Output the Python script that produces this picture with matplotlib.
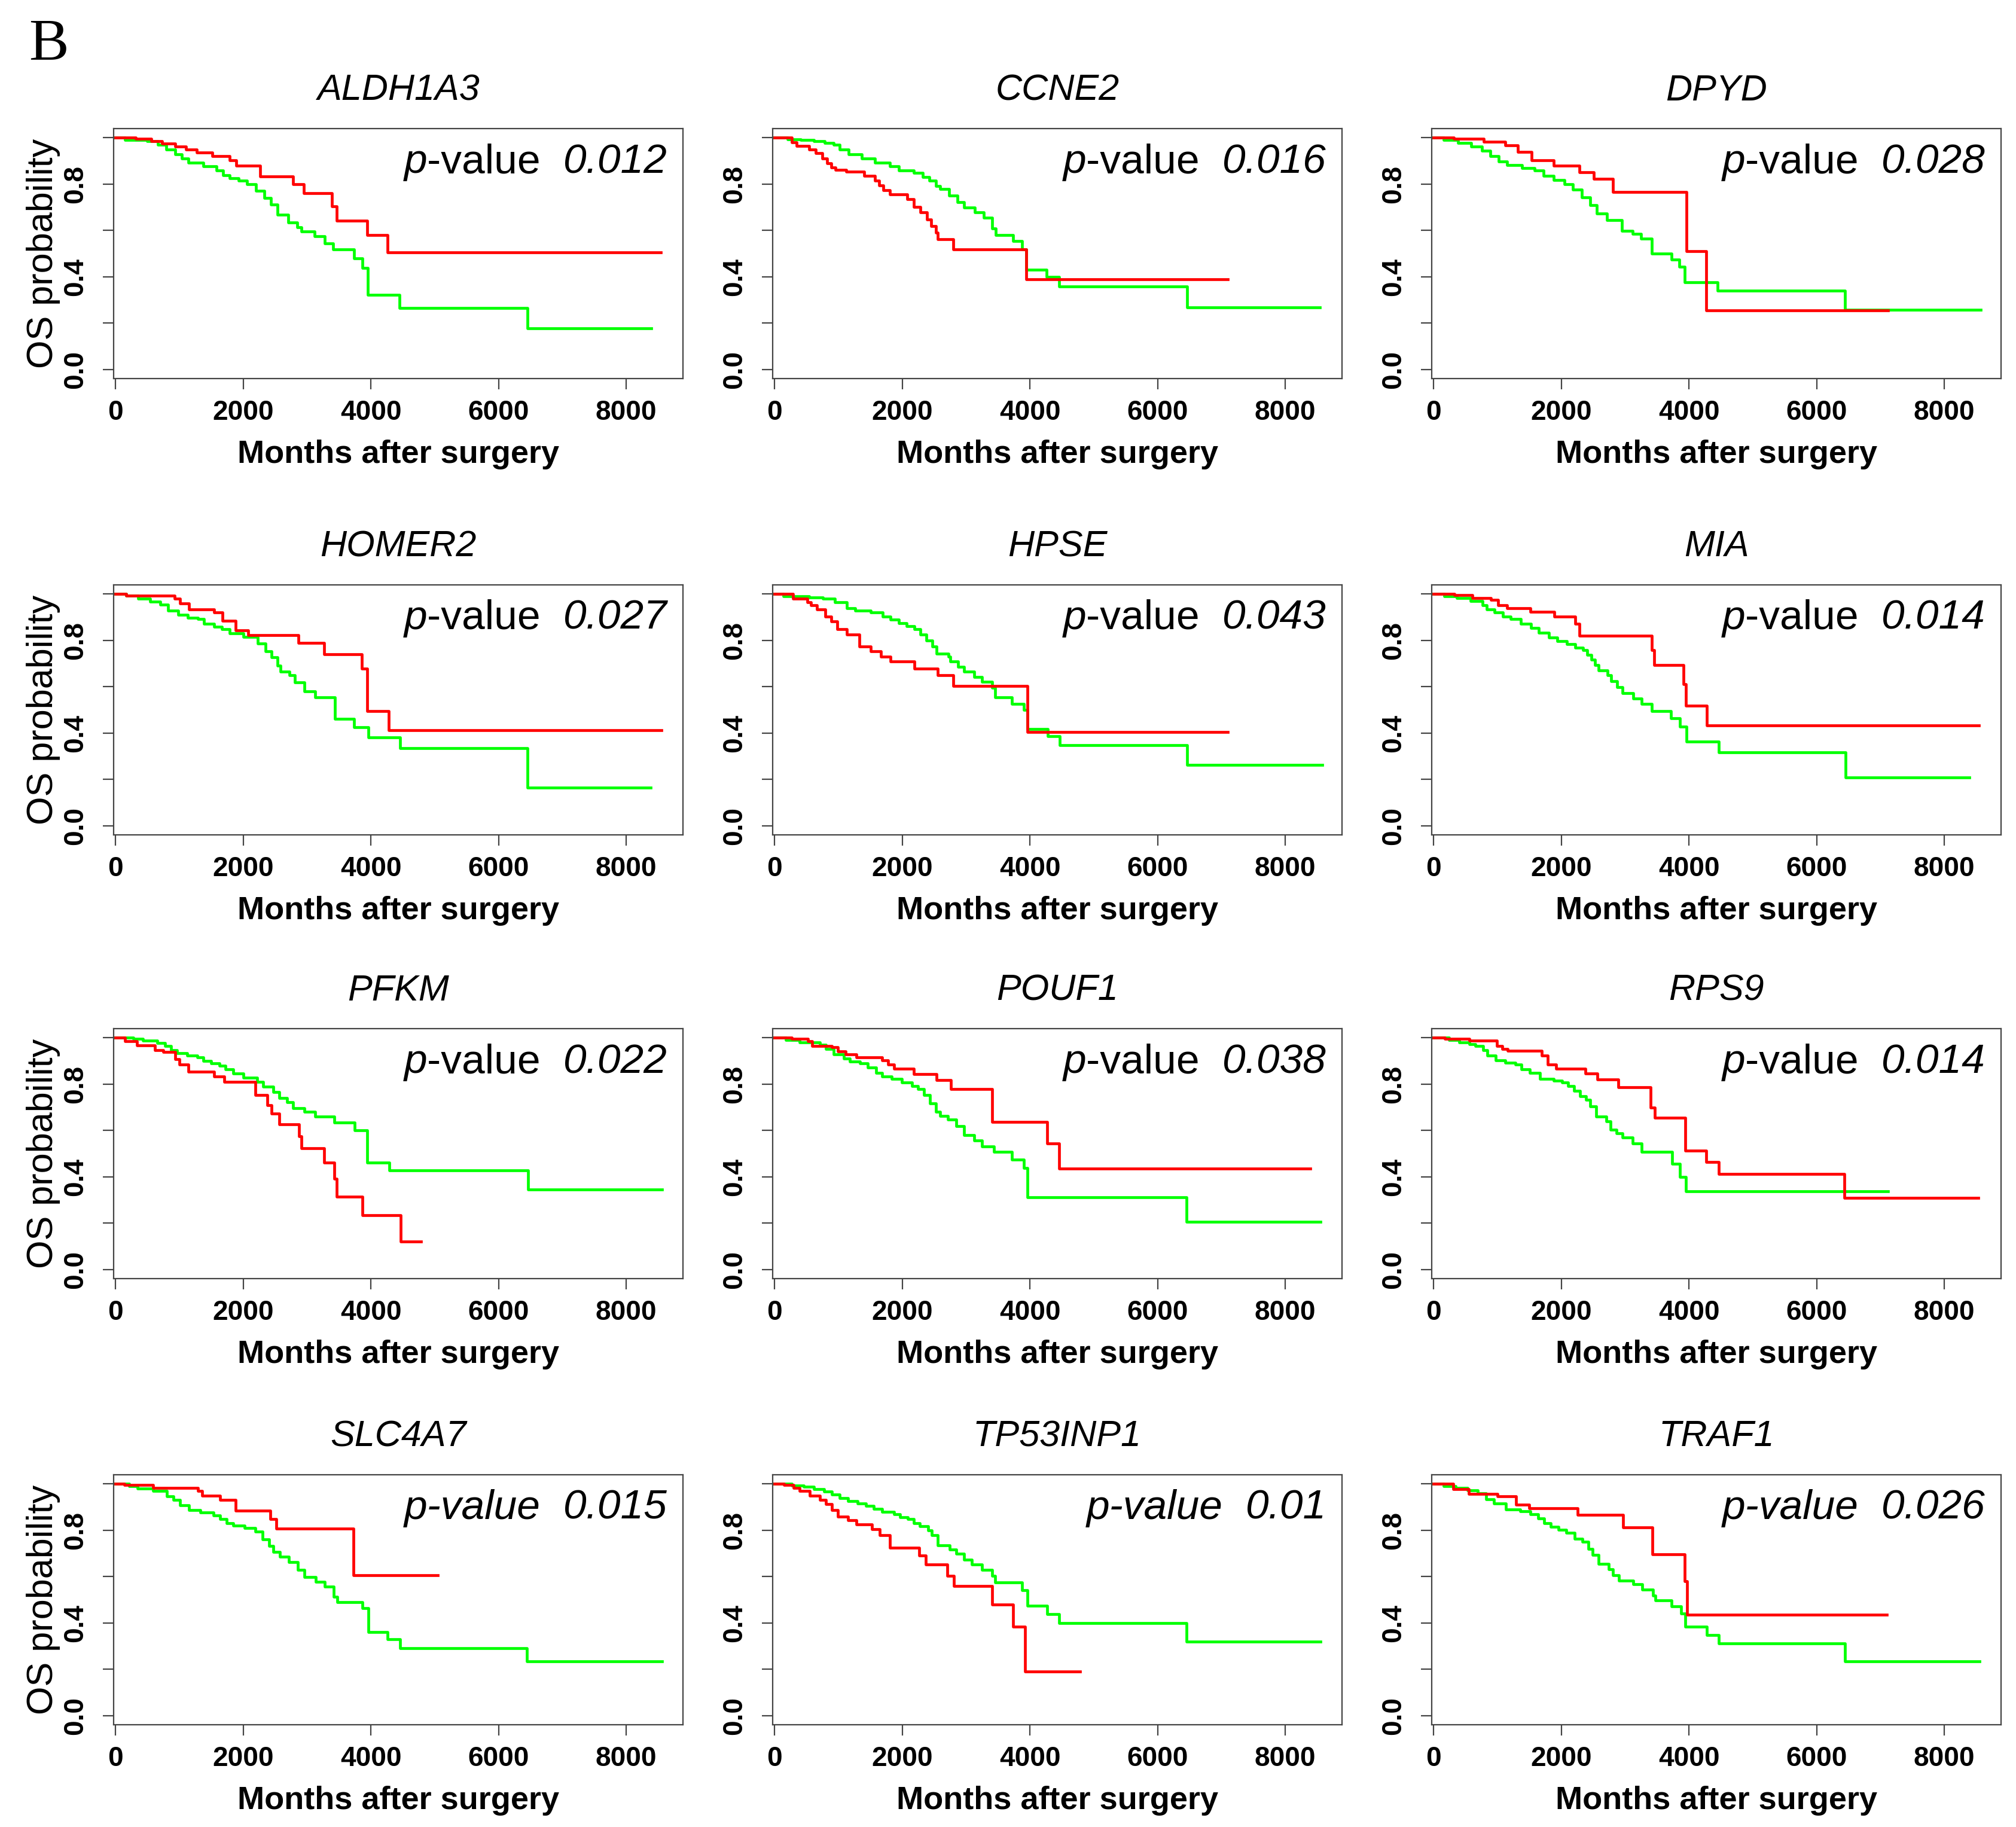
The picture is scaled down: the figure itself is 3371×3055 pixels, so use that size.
import matplotlib
matplotlib.use("Agg")
import matplotlib.pyplot as plt

plt.rcParams['font.family'] = ['Liberation Sans', 'DejaVu Sans']

# panel labels
genes = ["ALDH1A3", "CCNE2", "DPYD", "HOMER2", "HPSE", "MIA",
         "PFKM", "POUF1", "RPS9", "SLC4A7", "TP53INP1", "TRAF1"]
p_values = ["0.012", "0.016", "0.028", "0.027", "0.043", "0.014",
            "0.022", "0.038", "0.014", "0.015", "0.01", "0.026"]
p_all_italic = [False, False, False, False, False, False,
                False, False, False, True, True, True]

x_ticks = [0, 2000, 4000, 6000, 8000]
y_ticks = [0.0, 0.2, 0.4, 0.6, 0.8, 1.0]
y_tick_labels = ["0.0", "", "0.4", "", "0.8", ""]

# Kaplan-Meier steps: (time, survival after that time)
aldh1a3_red = [(0, 1.0), (321, 0.996), (560, 0.987), (730, 0.976), (935, 0.963), (1106, 0.95), (1276, 0.937),
               (1515, 0.92), (1788, 0.904), (1891, 0.88), (2266, 0.834), (2778, 0.799), (2949, 0.762),
               (3392, 0.703), (3461, 0.643), (3939, 0.579), (4259, 0.505), (8546, 0.505)]
aldh1a3_green = [(0, 1.0), (150, 0.992), (491, 0.986), (662, 0.97), (799, 0.95), (935, 0.93), (1038, 0.91),
                 (1140, 0.893), (1379, 0.878), (1584, 0.858), (1686, 0.838), (1788, 0.825), (1925, 0.816),
                 (2061, 0.799), (2198, 0.772), (2334, 0.739), (2437, 0.713), (2539, 0.667), (2710, 0.634),
                 (2846, 0.614), (2915, 0.595), (3119, 0.575), (3276, 0.545), (3413, 0.518), (3734, 0.479),
                 (3870, 0.437), (3952, 0.321), (4451, 0.266), (6451, 0.176), (8396, 0.176)]

ccne2_red = [(0, 1.0), (273, 0.98), (341, 0.966), (546, 0.95), (648, 0.935), (751, 0.912), (819, 0.889),
             (887, 0.872), (956, 0.862), (1126, 0.854), (1399, 0.837), (1570, 0.814), (1638, 0.794),
             (1707, 0.774), (1809, 0.755), (2082, 0.734), (2184, 0.702), (2287, 0.677), (2389, 0.648),
             (2457, 0.619), (2526, 0.591), (2560, 0.562), (2799, 0.518), (3945, 0.388), (7099, 0.388)]
ccne2_green = [(0, 1.0), (205, 0.994), (410, 0.991), (614, 0.986), (785, 0.978), (922, 0.969), (1024, 0.95),
               (1160, 0.929), (1365, 0.912), (1570, 0.894), (1809, 0.877), (1945, 0.86), (2184, 0.849),
               (2321, 0.831), (2423, 0.814), (2526, 0.791), (2594, 0.78), (2730, 0.751), (2867, 0.722),
               (2969, 0.7), (3140, 0.677), (3276, 0.656), (3413, 0.608), (3468, 0.581), (3741, 0.553),
               (3877, 0.518), (3945, 0.43), (4266, 0.399), (4457, 0.358), (6464, 0.268), (8546, 0.268)]

dpyd_red = [(0, 1.0), (320, 0.995), (786, 0.984), (1119, 0.967), (1319, 0.938), (1532, 0.904), (1885, 0.881),
            (2285, 0.852), (2505, 0.823), (2805, 0.766), (3964, 0.511), (4270, 0.255), (7115, 0.255)]
dpyd_green = [(0, 1.0), (153, 0.99), (386, 0.978), (586, 0.963), (753, 0.944), (886, 0.921), (1019, 0.898),
              (1153, 0.883), (1386, 0.869), (1586, 0.858), (1719, 0.835), (1885, 0.817), (2052, 0.8),
              (2185, 0.777), (2318, 0.743), (2452, 0.708), (2552, 0.674), (2718, 0.645), (2951, 0.599),
              (3118, 0.584), (3251, 0.565), (3418, 0.499), (3731, 0.473), (3851, 0.444), (3937, 0.375),
              (4450, 0.341), (6449, 0.258), (8567, 0.258)]

homer2_red = [(0, 1.0), (168, 0.993), (929, 0.98), (1010, 0.96), (1153, 0.934), (1540, 0.92), (1677, 0.886),
              (1883, 0.843), (2082, 0.822), (2868, 0.79), (3267, 0.741), (3859, 0.677), (3940, 0.495),
              (4277, 0.413), (8553, 0.413)]
homer2_green = [(0, 1.0), (168, 0.993), (355, 0.98), (542, 0.968), (698, 0.955), (823, 0.928), (979, 0.911),
                (1135, 0.898), (1290, 0.893), (1384, 0.872), (1540, 0.86), (1664, 0.848), (1789, 0.83),
                (2007, 0.816), (2226, 0.788), (2350, 0.753), (2444, 0.727), (2537, 0.692), (2587, 0.666),
                (2724, 0.649), (2805, 0.618), (2961, 0.579), (3129, 0.555), (3440, 0.461), (3734, 0.426),
                (3959, 0.382), (4457, 0.334), (6452, 0.163), (8385, 0.163)]

hpse_red = [(0, 1.0), (293, 0.981), (511, 0.965), (573, 0.952), (667, 0.935), (791, 0.904), (885, 0.883),
            (978, 0.848), (1134, 0.826), (1333, 0.774), (1508, 0.752), (1664, 0.73), (1819, 0.709),
            (2193, 0.678), (2555, 0.65), (2798, 0.604), (3957, 0.404), (7103, 0.404)]
hpse_green = [(0, 1.0), (137, 0.991), (542, 0.987), (760, 0.981), (947, 0.965), (1134, 0.939), (1259, 0.93),
              (1508, 0.922), (1695, 0.904), (1819, 0.891), (1944, 0.874), (2069, 0.861), (2193, 0.85),
              (2287, 0.826), (2380, 0.8), (2474, 0.774), (2536, 0.743), (2723, 0.73), (2754, 0.709),
              (2879, 0.687), (2972, 0.665), (3128, 0.643), (3253, 0.622), (3408, 0.596), (3452, 0.555),
              (3720, 0.526), (3907, 0.5), (3957, 0.417), (4281, 0.387), (4468, 0.348), (6461, 0.263),
              (8580, 0.263)]

mia_red = [(0, 1.0), (328, 0.995), (611, 0.984), (894, 0.975), (1008, 0.951), (1146, 0.938), (1512, 0.925),
           (1890, 0.903), (2217, 0.873), (2280, 0.82), (3414, 0.759), (3458, 0.694), (3918, 0.611),
           (3950, 0.519), (4283, 0.432), (8548, 0.432)]
mia_green = [(0, 1.0), (170, 0.99), (359, 0.982), (580, 0.969), (768, 0.951), (831, 0.934), (957, 0.921),
             (1083, 0.903), (1209, 0.892), (1367, 0.873), (1524, 0.855), (1650, 0.833), (1808, 0.812),
             (1934, 0.798), (2091, 0.785), (2217, 0.77), (2343, 0.759), (2406, 0.737), (2469, 0.716),
             (2532, 0.694), (2583, 0.67), (2721, 0.65), (2784, 0.624), (2879, 0.598), (2961, 0.572),
             (3131, 0.55), (3257, 0.525), (3414, 0.496), (3716, 0.464), (3855, 0.428), (3962, 0.362),
             (4472, 0.316), (6456, 0.209), (8390, 0.209)]

pfkm_red = [(0, 1.0), (150, 0.986), (339, 0.968), (621, 0.947), (746, 0.938), (934, 0.907), (997, 0.885),
            (1141, 0.855), (1542, 0.833), (1705, 0.811), (2188, 0.754), (2376, 0.71), (2439, 0.672),
            (2564, 0.627), (2878, 0.574), (2909, 0.522), (3267, 0.461), (3423, 0.391), (3461, 0.313),
            (3869, 0.235), (4464, 0.119), (4790, 0.119)]
pfkm_green = [(0, 1.0), (276, 0.995), (433, 0.988), (652, 0.977), (777, 0.964), (872, 0.947), (966, 0.933),
              (1122, 0.925), (1279, 0.916), (1373, 0.9), (1499, 0.891), (1624, 0.881), (1718, 0.865),
              (1843, 0.846), (2000, 0.828), (2220, 0.811), (2314, 0.789), (2470, 0.767), (2564, 0.741),
              (2690, 0.723), (2784, 0.697), (2959, 0.681), (3129, 0.659), (3423, 0.634), (3743, 0.601),
              (3944, 0.462), (4289, 0.427), (6464, 0.344), (8565, 0.344)]

pouf1_red = [(0, 1.0), (270, 0.996), (521, 0.987), (584, 0.966), (897, 0.96), (991, 0.943), (1117, 0.929),
             (1286, 0.916), (1681, 0.903), (1776, 0.885), (1870, 0.866), (2183, 0.843), (2541, 0.819),
             (2761, 0.779), (3407, 0.636), (4273, 0.545), (4461, 0.435), (8395, 0.435)]
pouf1_green = [(0, 1.0), (176, 0.991), (395, 0.981), (709, 0.969), (803, 0.951), (929, 0.929), (1085, 0.91),
               (1180, 0.898), (1336, 0.89), (1462, 0.872), (1587, 0.85), (1681, 0.834), (1838, 0.823),
               (1995, 0.807), (2152, 0.792), (2246, 0.779), (2340, 0.753), (2434, 0.717), (2528, 0.682),
               (2591, 0.664), (2717, 0.647), (2842, 0.62), (2968, 0.58), (3124, 0.558), (3250, 0.532),
               (3438, 0.507), (3720, 0.474), (3909, 0.439), (3959, 0.311), (6450, 0.205), (8552, 0.205)]

rps9_red = [(0, 1.0), (177, 0.996), (557, 0.989), (987, 0.965), (1075, 0.952), (1157, 0.945), (1695, 0.925),
            (1790, 0.886), (1916, 0.868), (2378, 0.846), (2568, 0.821), (2896, 0.786), (3402, 0.698),
            (3466, 0.654), (3940, 0.514), (4275, 0.463), (4465, 0.411), (6438, 0.31), (8537, 0.31)]
rps9_green = [(0, 1.0), (240, 0.991), (398, 0.98), (557, 0.974), (651, 0.965), (778, 0.947), (841, 0.925),
              (968, 0.903), (1126, 0.894), (1284, 0.886), (1379, 0.864), (1505, 0.85), (1663, 0.824),
              (1885, 0.815), (2011, 0.807), (2106, 0.793), (2201, 0.771), (2296, 0.749), (2391, 0.732),
              (2454, 0.705), (2549, 0.661), (2707, 0.639), (2770, 0.604), (2865, 0.587), (2960, 0.569),
              (3118, 0.543), (3263, 0.509), (3737, 0.455), (3858, 0.398), (3953, 0.338), (7121, 0.338)]

slc4a7_red = [(0, 1.0), (139, 0.995), (592, 0.982), (1289, 0.969), (1359, 0.95), (1638, 0.931),
              (1882, 0.884), (2425, 0.849), (2523, 0.807), (3728, 0.607), (5053, 0.607)]
slc4a7_green = [(0, 1.0), (209, 0.991), (348, 0.98), (592, 0.969), (801, 0.947), (906, 0.931), (1011, 0.909),
                (1150, 0.887), (1324, 0.876), (1533, 0.865), (1638, 0.849), (1742, 0.832), (1847, 0.821),
                (2021, 0.81), (2195, 0.794), (2300, 0.761), (2404, 0.733), (2474, 0.706), (2579, 0.686),
                (2718, 0.662), (2857, 0.629), (2962, 0.598), (3136, 0.578), (3275, 0.558), (3415, 0.514),
                (3471, 0.49), (3868, 0.464), (3958, 0.36), (4265, 0.33), (4460, 0.292), (6446, 0.234),
                (8558, 0.234)]

tp53inp1_red = [(0, 1.0), (144, 0.995), (301, 0.983), (395, 0.97), (552, 0.95), (709, 0.931), (803, 0.913),
                (897, 0.887), (991, 0.858), (1148, 0.843), (1286, 0.826), (1525, 0.804), (1650, 0.779),
                (1807, 0.725), (2265, 0.69), (2372, 0.652), (2704, 0.604), (2811, 0.559), (3407, 0.48),
                (3733, 0.384), (3928, 0.191), (4787, 0.191)]
tp53inp1_green = [(0, 1.0), (270, 0.994), (458, 0.988), (615, 0.977), (772, 0.968), (897, 0.954),
                  (1023, 0.94), (1148, 0.926), (1305, 0.916), (1430, 0.905), (1556, 0.893), (1681, 0.881),
                  (1870, 0.87), (1964, 0.856), (2089, 0.848), (2183, 0.83), (2277, 0.817), (2403, 0.8),
                  (2466, 0.778), (2560, 0.736), (2748, 0.716), (2842, 0.699), (2968, 0.674), (3093, 0.653),
                  (3250, 0.629), (3407, 0.604), (3457, 0.574), (3877, 0.541), (3959, 0.475), (4273, 0.438),
                  (4461, 0.399), (6450, 0.32), (8552, 0.32)]

traf1_red = [(0, 1.0), (303, 0.978), (555, 0.958), (997, 0.947), (1293, 0.912), (1501, 0.895), (2259, 0.866),
             (2965, 0.812), (3426, 0.696), (3930, 0.58), (3970, 0.436), (7098, 0.436)]
traf1_green = [(0, 1.0), (158, 0.991), (347, 0.982), (536, 0.974), (694, 0.961), (820, 0.934), (946, 0.917),
               (1136, 0.891), (1356, 0.882), (1514, 0.869), (1640, 0.851), (1735, 0.832), (1830, 0.816),
               (1956, 0.803), (2082, 0.79), (2208, 0.764), (2334, 0.751), (2429, 0.72), (2492, 0.694),
               (2587, 0.654), (2744, 0.633), (2808, 0.606), (2902, 0.582), (3123, 0.567), (3268, 0.545),
               (3438, 0.519), (3470, 0.497), (3723, 0.471), (3880, 0.44), (3943, 0.383), (4277, 0.348),
               (4467, 0.311), (6448, 0.234), (8549, 0.234)]

red_curves = [aldh1a3_red, ccne2_red, dpyd_red, homer2_red, hpse_red, mia_red,
              pfkm_red, pouf1_red, rps9_red, slc4a7_red, tp53inp1_red, traf1_red]
green_curves = [aldh1a3_green, ccne2_green, dpyd_green, homer2_green, hpse_green, mia_green,
                pfkm_green, pouf1_green, rps9_green, slc4a7_green, tp53inp1_green, traf1_green]

W, H = 3371, 3055
fig = plt.figure(figsize=(W / 100, H / 100), dpi=100)

# layout in pixels
col_left = [190, 1292, 2394]
row_top = [215, 978, 1720, 2466]
ax_w, ax_h = 952, 418

for i, gene in enumerate(genes):
    r, c = divmod(i, 3)
    ax = fig.add_axes([col_left[c] / W, 1 - (row_top[r] + ax_h) / H, ax_w / W, ax_h / H])

    for curve, col in ((green_curves[i], '#00ff00'), (red_curves[i], '#ff0000')):
        t = [p[0] for p in curve]
        s = [p[1] for p in curve]
        ax.step(t, s, where='post', color=col, lw=3.4)

    ax.set_xlim(-30, 8890)
    ax.set_ylim(-0.04, 1.04)
    ax.set_xticks(x_ticks)
    ax.set_xticklabels([str(v) for v in x_ticks], fontweight='bold', fontsize=33)
    ax.set_yticks(y_ticks)
    ax.set_yticklabels(y_tick_labels, rotation=90, va='center', fontweight='bold', fontsize=33)
    ax.tick_params(axis='x', length=13, width=1.6, pad=12, colors='#444444', labelcolor='black')
    ax.tick_params(axis='y', length=13, width=1.6, pad=17, colors='#444444', labelcolor='black')
    for sp in ax.spines.values():
        sp.set_linewidth(1.6)
        sp.set_color('#444444')

    ax.text(0.5, 1 + 63 / ax_h, gene, transform=ax.transAxes, ha='center', va='center',
            fontsize=44, style='italic')

    # p-value: number in italics, "p" italic, "-value" upright except in the last row
    num = ax.text(1 - 26 / ax_w, 1 - 74 / ax_h, p_values[i], transform=ax.transAxes, ha='right',
                  va='baseline', fontsize=50, style='italic')
    if p_all_italic[i]:
        ax.annotate("p-value  ", xy=(0, 0), xycoords=num, ha='right', va='bottom',
                    fontsize=50, style='italic')
    else:
        val = ax.annotate("-value  ", xy=(0, 0), xycoords=num, ha='right', va='bottom', fontsize=50)
        ax.annotate("p", xy=(0, 0), xycoords=val, ha='right', va='bottom', fontsize=50, style='italic')

    ax.text(0.5, -127 / ax_h, "Months after surgery", transform=ax.transAxes, ha='center',
            va='center', fontsize=39, fontweight='bold')
    if c == 0:
        ax.text(-117 / ax_w, 0.5, "OS probability", transform=ax.transAxes, rotation=90,
                ha='center', va='center', fontsize=44)

fig.text(48 / W, 1 - 30 / H, "B", family=['Liberation Serif', 'DejaVu Serif'], fontsize=72, va='top')

fig.savefig("out.png", dpi=100, facecolor='white')
